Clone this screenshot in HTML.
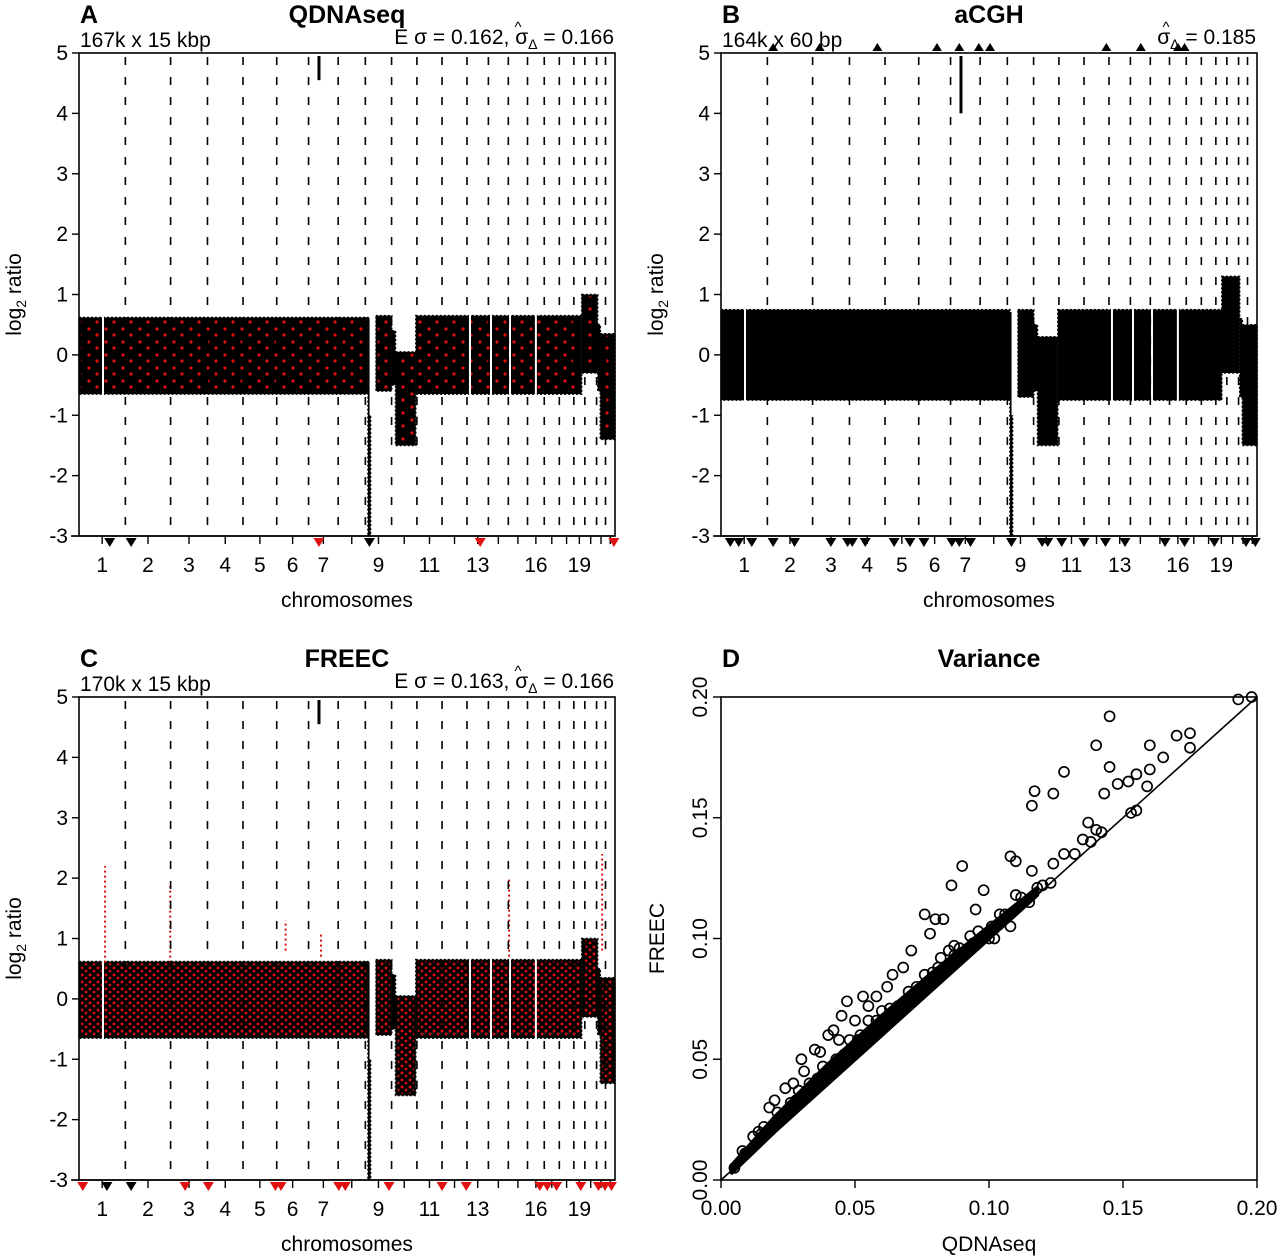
<!DOCTYPE html>
<html><head><meta charset="utf-8">
<style>
html,body{margin:0;padding:0;background:#fff;}
svg{display:block;font-family:"Liberation Sans",Arial,sans-serif;}
</style></head>
<body>
<svg id="fig" width="1280" height="1258" viewBox="0 0 1280 1258" xmlns="http://www.w3.org/2000/svg">
<defs>
<pattern id="redA" width="17" height="13" patternUnits="userSpaceOnUse">
<circle cx="4" cy="4" r="1.6" fill="#e01010"/><circle cx="12" cy="10" r="1.6" fill="#e01010"/>
</pattern>
<pattern id="redC" width="8" height="7" patternUnits="userSpaceOnUse">
<circle cx="2" cy="2" r="1.5" fill="#d81010"/><circle cx="6" cy="5" r="1.4" fill="#d81010"/>
</pattern>
</defs>
</svg>
<script>
// ---------- data ----------
const chromLengths = [249,243,198,191,181,171,159,146,141,136,135,134,115,107,103,90,81,78,59,63,48,51];
const chromLabelsShown = [1,2,3,4,5,6,7,9,11,13,16,19];
const yTicks = [5,4,3,2,1,0,-1,-2,-3];
const segStartA = [0,1552,1594,1680,1700,1809,2700,2786,2800];
const segEndA   = [1552,1566,1680,1700,1809,2700,2786,2800,2879];
const segLoA    = [-0.65,-3.0,-0.6,-0.5,-1.5,-0.65,-0.3,-0.6,-1.4];
const segHiA    = [0.62,0.6,0.65,0.4,0.05,0.65,1.0,0.5,0.35];
const segStartB = [0,1552,1594,1680,1700,1809,2690,2786,2800];
const segEndB   = [1552,1566,1680,1700,1809,2690,2786,2800,2879];
const segLoB    = [-0.75,-3.0,-0.7,-0.6,-1.5,-0.75,-0.3,-0.7,-1.5];
const segHiB    = [0.75,0.7,0.75,0.5,0.3,0.75,1.3,0.6,0.5];
const segStartC = segStartA, segEndC = segEndA;
const segLoC    = [-0.65,-3.0,-0.6,-0.5,-1.6,-0.65,-0.3,-0.6,-1.4];
const segHiC    = [0.62,0.6,0.65,0.4,0.05,0.65,1.0,0.5,0.35];
const gapsMb = [129,1566,1576,1586,2100,2213,2315,2454];
const spikeMb = [1289];
const spikeLo = [4.55];
const spikeHi = [4.95];
const redSpikeMb = [140,490,1110,1300,2310,2810];
const redSpikeLo = [0.6,0.6,0.8,0.7,0.7,0.8];
const redSpikeHi = [2.2,1.9,1.3,1.1,2.0,2.4];
const triA_bot = [165,280,1289,1560,2155,2873];
const triA_col = ['k','k','r','k','r','r'];
const triB_top = [280,530,840,1160,1280,1385,1445,2070,2255,2455,2490];
const triB_bot = [50,95,165,280,395,590,680,705,775,930,1015,1090,1240,1280,1340,1560,1725,1755,1830,1950,2065,2170,2385,2490,2650,2820,2870];
const triC_bot = [20,150,280,570,695,1055,1085,1395,1430,1665,1950,2080,2475,2515,2565,2695,2790,2825,2860];
const triC_col = ['r','k','k','r','r','r','r','r','r','r','r','r','r','r','r','r','r','r','r'];
const qVals = [0.145,0.140,0.128,0.124,0.116,0.117,0.145,0.160,0.170,0.175,0.175,0.165,0.155,0.152,0.148,0.143,0.159,0.155,0.153,0.160,0.193,0.198,0.137,0.140,0.142,0.138,0.132,0.135,0.128,0.123,0.120,0.124,0.116,0.110,0.108,0.115,0.110,0.108,0.102,0.101,0.098,0.095,0.090,0.086,0.083,0.080,0.078,0.076,0.087,0.090,0.094,0.100,0.085,0.071,0.064,0.068,0.058,0.055,0.062,0.050,0.053,0.047,0.045,0.040,0.044,0.035,0.030,0.027,0.020,0.012,0.005,0.018,0.024,0.031,0.037,0.042,0.073,0.081,0.089,0.096,0.104,0.112,0.118,0.066,0.061,0.057,0.049,0.046,0.039,0.034,0.028,0.022,0.015,0.009,0.070,0.076,0.082,0.060,0.052,0.043,0.033,0.026,0.016,0.008,0.055,0.048,0.038,0.029,0.021,0.014,0.106,0.093,0.087,0.079,0.072,0.065,0.063,0.058,0.051,0.044,0.036,0.031];
const fVals = [0.192,0.180,0.169,0.160,0.155,0.161,0.171,0.180,0.184,0.185,0.179,0.175,0.168,0.165,0.164,0.160,0.163,0.153,0.152,0.170,0.199,0.200,0.148,0.145,0.144,0.140,0.135,0.141,0.135,0.123,0.122,0.131,0.128,0.132,0.134,0.115,0.118,0.105,0.100,0.105,0.120,0.112,0.130,0.122,0.108,0.108,0.102,0.110,0.097,0.094,0.098,0.100,0.095,0.095,0.085,0.088,0.076,0.072,0.080,0.066,0.076,0.074,0.068,0.060,0.058,0.054,0.050,0.040,0.033,0.018,0.005,0.030,0.038,0.045,0.053,0.062,0.080,0.088,0.096,0.103,0.110,0.117,0.121,0.072,0.066,0.062,0.054,0.052,0.044,0.039,0.033,0.026,0.019,0.011,0.078,0.085,0.092,0.070,0.060,0.050,0.040,0.032,0.022,0.012,0.066,0.058,0.047,0.037,0.028,0.020,0.110,0.101,0.093,0.086,0.077,0.070,0.071,0.066,0.058,0.049,0.042,0.035];
const bandQ  = [0.004,0.02,0.04,0.06,0.08,0.10,0.118];
const bandLo = [0.003,0.020,0.040,0.060,0.080,0.100,0.118];
const bandHi = [0.006,0.026,0.048,0.068,0.087,0.105,0.121];
const dTicks = [0,0.05,0.10,0.15,0.20];
const dTickLabels = ['0.00','0.05','0.10','0.15','0.20'];

// ---------- drawing ----------
const NS='http://www.w3.org/2000/svg';
const svg=document.getElementById('fig');
function mk(tag,attrs,parent,text){const e=document.createElementNS(NS,tag);for(const k in attrs)e.setAttribute(k,attrs[k]);if(text!==undefined)e.textContent=text;(parent||svg).appendChild(e);return e;}
const totalMb = chromLengths.reduce((a,b)=>a+b,0);
const cum=[];{let s=0;for(const l of chromLengths){cum.push(s);s+=l;}}
const FS=21;

function genomePanel(P){
  const g=mk('g',{});
  
  
  const x0=P.x0,x1=P.x0+536,yT=P.yTop,yB=P.yTop+483;
  const X=mb=>x0+mb/totalMb*536;
  const Y=v=>yT+(5-v)*(483/8);
  for(let i=0;i<P.segStart.length;i++){
    const r=mk('rect',{x:X(P.segStart[i]),y:Y(P.segHi[i]),width:Math.max(1,X(P.segEnd[i])-X(P.segStart[i])),height:Y(P.segLo[i])-Y(P.segHi[i]),fill:'#000',stroke:'#000','stroke-width':1.5,'stroke-dasharray':'2 2'},g);
    
    
    if(P.red){
      const rr=mk('rect',{x:X(P.segStart[i])+2,y:Y(P.segHi[i])+2,width:Math.max(0,X(P.segEnd[i])-X(P.segStart[i])-4),height:Math.max(0,Y(P.segLo[i])-Y(P.segHi[i])-4),fill:'url(#'+P.red+')'},g);
      
      
    }
  }
  for(const m of gapsMb){
    const w=mk('rect',{x:X(m)-1,y:Y(1),width:2,height:Y(-1)-Y(1),fill:'#fff'},g);
    
    
  }
  for(let i=0;i<spikeMb.length;i++){
    const s=mk('line',{x1:X(spikeMb[i]),x2:X(spikeMb[i]),y1:Y(spikeLo[i]-(P.spikeExtra||0)),y2:Y(spikeHi[i]),stroke:'#000','stroke-width':3},g);
    
    
  }
  if(P.redSpikes){
    for(let i=0;i<redSpikeMb.length;i++){
      const s=mk('line',{x1:X(redSpikeMb[i]),x2:X(redSpikeMb[i]),y1:Y(redSpikeLo[i]),y2:Y(redSpikeHi[i]),stroke:'#d81010','stroke-width':2,'stroke-dasharray':'2 3'},g);
      
      
    }
  }
  for(let i=1;i<chromLengths.length;i++){
    const l=mk('line',{x1:X(cum[i]),x2:X(cum[i]),y1:yT+4,y2:yB,stroke:'#000','stroke-width':1.6,'stroke-dasharray':'8 12'},g);
    
    
  }
  const box=mk('rect',{x:x0,y:yT,width:536,height:483,fill:'none',stroke:'#000','stroke-width':1.6},g);
  
  
  mk('line',{x1:x0-8,x2:x1,y1:yB,y2:yB,stroke:'#000','stroke-width':1.6},g);
  for(const v of yTicks){
    mk('line',{x1:x0-7,x2:x0,y1:Y(v),y2:Y(v),stroke:'#000','stroke-width':1.4},g);
    const t=mk('text',{x:x0-11,y:Y(v)+7,'text-anchor':'end','font-size':FS},g,String(v));
    
    
  }
  for(let i=0;i<chromLengths.length;i++){
    const mx=X(cum[i]+chromLengths[i]/2);
    mk('line',{x1:mx,x2:mx,y1:yB,y2:yB+8,stroke:'#000','stroke-width':1.4},g);
    if(chromLabelsShown.includes(i+1)){
      const t=mk('text',{x:mx,y:yB+36,'text-anchor':'middle','font-size':FS},g,String(i+1));
      
      
    }
  }
  const tri=(mb,up,col)=>{
    const x=X(mb);
    let pts;
    if(up){const yb=yT-2;pts=`${x-5},${yb} ${x+5},${yb} ${x},${yb-8}`;}
    else{const yt=yB+2;pts=`${x-5.5},${yt} ${x+5.5},${yt} ${x},${yt+9}`;}
    const p=mk('polygon',{points:pts,fill:col==='r'?'#e01010':'#000'},g);
    
    
  };
  (P.triBot||[]).forEach((m,i)=>tri(m,false,P.triCol?P.triCol[i]:'k'));
  (P.triTop||[]).forEach(m=>tri(m,true,'k'));
  const L=mk('text',{x:x0+1,y:yT-30,'font-size':25,'font-weight':'bold'},g,P.letter);
  
  
  const T=mk('text',{x:x0+268,y:yT-30,'font-size':25,'font-weight':'bold','text-anchor':'middle'},g,P.title);
  
  
  const S=mk('text',{x:x0+1,y:yT-6,'font-size':FS},g,P.sub);
  
  
  const E=mk('text',{x:x1-1,y:yT-9,'font-size':FS,'text-anchor':'end'},g);
  
  
  E.appendChild(document.createTextNode(P.sigma+'σ'));
  mk('tspan',{'font-size':14,dy:5},E,'Δ');
  mk('tspan',{dy:-5},E,' = '+P.sigmaHat);
  mk('text',{x:P.hatX,y:yT-21,'font-size':15,'text-anchor':'middle'},g,'^');
  const C=mk('text',{x:x0+268,y:yB+71,'font-size':FS,'text-anchor':'middle'},g,'chromosomes');
  
  
  const yl=mk('text',{transform:`translate(${x0-58},${Y(1)}) rotate(-90)`,'font-size':FS,'text-anchor':'middle'},g);
  
  
  yl.appendChild(document.createTextNode('log'));
  mk('tspan',{'font-size':14,dy:5},yl,'2');
  mk('tspan',{dy:-5},yl,' ratio');
}

genomePanel({name:'panel-a-qdnaseq',x0:79,yTop:53,segStart:segStartA,segEnd:segEndA,segLo:segLoA,segHi:segHiA,red:'redA',triBot:triA_bot,triCol:triA_col,letter:'A',title:'QDNAseq',sub:'167k x 15 kbp',sigma:'E σ = 0.162, ',sigmaHat:'0.166',hatX:518});
genomePanel({name:'panel-b-acgh',x0:721,yTop:53,segStart:segStartB,segEnd:segEndB,segLo:segLoB,segHi:segHiB,triBot:triB_bot,triTop:triB_top,letter:'B',title:'aCGH',sub:'164k x 60 bp',sigma:'',sigmaHat:'0.185',hatX:1166,spikeExtra:0.55});
genomePanel({name:'panel-c-freec',x0:79,yTop:697,segStart:segStartC,segEnd:segEndC,segLo:segLoC,segHi:segHiC,red:'redC',redSpikes:true,triBot:triC_bot,triCol:triC_col,letter:'C',title:'FREEC',sub:'170k x 15 kbp',sigma:'E σ = 0.163, ',sigmaHat:'0.166',hatX:518});

// ---------- panel D ----------
(function(){
  const g=mk('g',{});
  
  
  const x0=721,yT=697,W=536,H=483,yB=yT+H;
  const X=v=>x0+v/0.2*W, Y=v=>yB-v/0.2*H;
  let pts=bandQ.map((q,i)=>`${X(q)},${Y(bandHi[i])}`).concat(bandQ.slice().reverse().map((q,j)=>{const i=bandQ.length-1-j;return `${X(q)},${Y(bandLo[i])}`;}));
  const band=mk('polygon',{points:pts.join(' '),fill:'#000',stroke:'#000','stroke-width':4,'stroke-linejoin':'round'},g);
  
  
  const diag=mk('line',{x1:X(0),y1:Y(0),x2:X(0.2),y2:Y(0.2),stroke:'#000','stroke-width':1.6},g);
  
  
  for(let i=0;i<qVals.length;i++){
    const c=mk('circle',{cx:X(qVals[i]),cy:Y(fVals[i]),r:5,fill:'none',stroke:'#000','stroke-width':1.7},g);
    
    
  }
  const box=mk('rect',{x:x0,y:yT,width:W,height:H,fill:'none',stroke:'#000','stroke-width':1.6},g);
  
  
  dTicks.forEach((v,i)=>{
    mk('line',{x1:X(v),x2:X(v),y1:yB,y2:yB+8,stroke:'#000','stroke-width':1.4},g);
    const t=mk('text',{x:X(v),y:yB+35,'text-anchor':'middle','font-size':FS},g,dTickLabels[i]);
    
    
    mk('line',{x1:x0-8,x2:x0,y1:Y(v),y2:Y(v),stroke:'#000','stroke-width':1.4},g);
    const u=mk('text',{transform:`translate(${x0-14},${Y(v)}) rotate(-90)`,'text-anchor':'middle','font-size':FS},g,dTickLabels[i]);
    
    
  });
  const L=mk('text',{x:x0+1,y:yT-30,'font-size':25,'font-weight':'bold'},g,'D');
  
  
  const T=mk('text',{x:x0+268,y:yT-30,'font-size':25,'font-weight':'bold','text-anchor':'middle'},g,'Variance');
  
  
  const xt=mk('text',{x:x0+268,y:yB+71,'font-size':FS,'text-anchor':'middle'},g,'QDNAseq');
  
  
  const yt=mk('text',{transform:`translate(${x0-57},${yT+H/2}) rotate(-90)`,'font-size':FS,'text-anchor':'middle'},g,'FREEC');
  
  
})();
</script>
</body></html>
